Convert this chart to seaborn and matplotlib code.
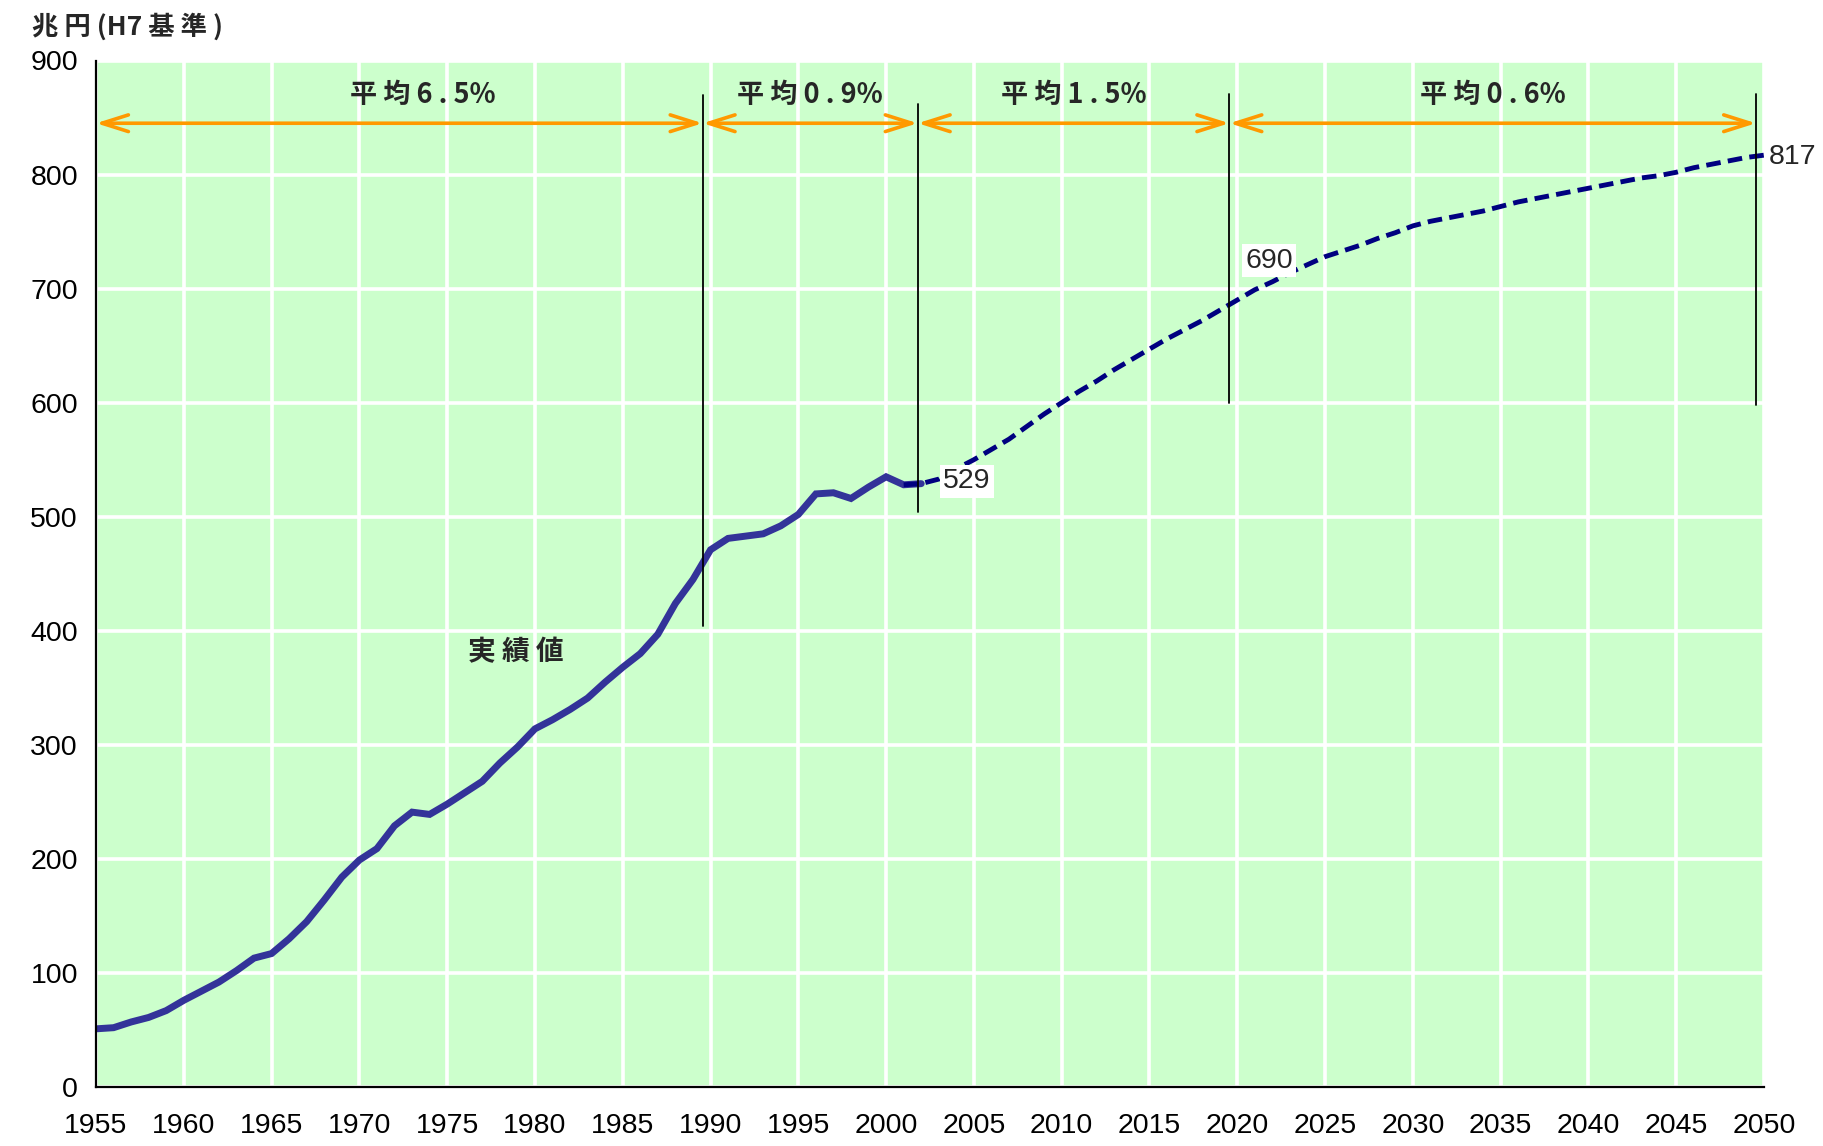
import matplotlib
matplotlib.use("Agg")
import matplotlib.pyplot as plt
import seaborn as sns
import pandas as pd

# ---------------- data ----------------
actual_years = list(range(1955, 2003))
actual_values = [51, 52, 57, 61, 67, 76, 84, 92, 102, 113,
                 117, 130, 145, 164, 184, 199, 209, 229, 241, 239,
                 248, 258, 268, 284, 298, 314, 322, 331, 341, 355,
                 368, 380, 397, 424, 445, 471, 481, 483, 485, 492,
                 502, 520, 521, 516, 526, 535, 528, 529]

forecast_years = list(range(2001, 2051))
forecast_values = [528, 529, 533, 542, 550, 559, 568, 579, 590, 600,
                   610, 619, 629, 638, 647, 656, 664, 672, 681, 690,
                   699, 706, 714, 721, 728, 733, 738, 744, 749, 755,
                   759, 762, 765, 768, 772, 776, 779, 782, 785, 788,
                   791, 794, 797, 799, 802, 806, 809, 812, 815, 817]

period_bounds = [1955, 1990, 2002, 2020, 2050]
period_labels = ["平 均 6 . 5%", "平 均 0 . 9%", "平 均 1 . 5%", "平 均 0 . 6%"]
value_labels = ["529", "690", "817"]
x_ticks = list(range(1955, 2051, 5))
y_ticks = list(range(0, 901, 100))

df_actual = pd.DataFrame({"year": actual_years, "value": actual_values})
df_fore = pd.DataFrame({"year": forecast_years, "value": forecast_values})

# ---------------- style ----------------
sns.set_style("white")
NUM = ["Liberation Sans", "DejaVu Sans"]
CJK = ["Noto Sans CJK JP", "DejaVu Sans"]
plt.rcParams["font.family"] = NUM

fig = plt.figure(figsize=(18.23, 11.46), dpi=100)
ax = fig.add_axes([96 / 1823, 1 - 1087 / 1146, (1764 - 96) / 1823, (1087 - 60.5) / 1146])
ax.set_facecolor("#CCFFCC")

sns.lineplot(data=df_actual, x="year", y="value", ax=ax, color="#333399",
             linewidth=5, zorder=4, solid_joinstyle="miter")
sns.lineplot(data=df_fore, x="year", y="value", ax=ax, color="#000080",
             linewidth=3.5, zorder=5)
ax.lines[-1].set_linestyle((0, (3, 1.5)))

ax.set_xlim(1955, 2050)
ax.set_ylim(0, 900)
ax.set_xticks(x_ticks)
ax.set_yticks(y_ticks)
ax.grid(True, color="white", linewidth=2.6, zorder=1)
ax.set_axisbelow(True)
ax.set_xlabel("")
ax.set_ylabel("")

for s in ["top", "right"]:
    ax.spines[s].set_visible(False)
for s in ["left", "bottom"]:
    ax.spines[s].set_color("black")
    ax.spines[s].set_linewidth(1.6)
    ax.spines[s].set_zorder(6)

ax.tick_params(axis="both", direction="in", length=7, width=1.3, color="black",
               labelsize=20.5, labelcolor="black")
ax.tick_params(axis="x", pad=19)
ax.tick_params(axis="y", pad=13)

# ---------------- annotations ----------------
line_x = [b - 0.45 for b in period_bounds[1:]]
line_x[1] = period_bounds[2] - 0.2
line_spans = [(404, 870), (504, 862), (600, 871), (598, 871)]
for lx, (y0, y1) in zip(line_x, line_spans):
    ax.plot([lx, lx], [y0, y1], color="black", linewidth=1.3, zorder=7)

arrow_x = [period_bounds[0]] + line_x
arrow_y = 845
for i in range(4):
    ax.annotate("", xy=(arrow_x[i + 1], arrow_y), xytext=(arrow_x[i], arrow_y),
                arrowprops=dict(arrowstyle="<->,head_length=1.9,head_width=0.6",
                                mutation_scale=10, color="#FF9900", lw=2.6,
                                shrinkA=0, shrinkB=0), zorder=8)
    cx = (arrow_x[i] + arrow_x[i + 1]) / 2
    if i == 0:
        cx = 1973.6
    ax.text(cx, 870, period_labels[i], family=CJK, fontweight="bold",
            fontsize=19.5, ha="center", va="center", zorder=9)

ax.text(1978.9, 381, "実 績 値", family=CJK, fontweight="bold", fontsize=20,
        ha="center", va="center", zorder=9)

box = dict(facecolor="white", edgecolor="none", pad=2.5)
ax.text(2004.6, 531, value_labels[0], fontsize=20.5, ha="center", va="center",
        bbox=box, zorder=9)
ax.text(2021.8, 724.5, value_labels[1], fontsize=20.5, ha="center", va="center",
        bbox=box, zorder=9)
ax.text(2051.6, 815, value_labels[2], fontsize=20.5, ha="center", va="center",
        zorder=9, clip_on=False)

fig.text(32 / 1823, 1 - 27 / 1146, "兆 円 (H7 基 準 )", family=CJK, fontweight="bold",
         fontsize=19, ha="left", va="center")

fig.savefig("out.png", dpi=100)
